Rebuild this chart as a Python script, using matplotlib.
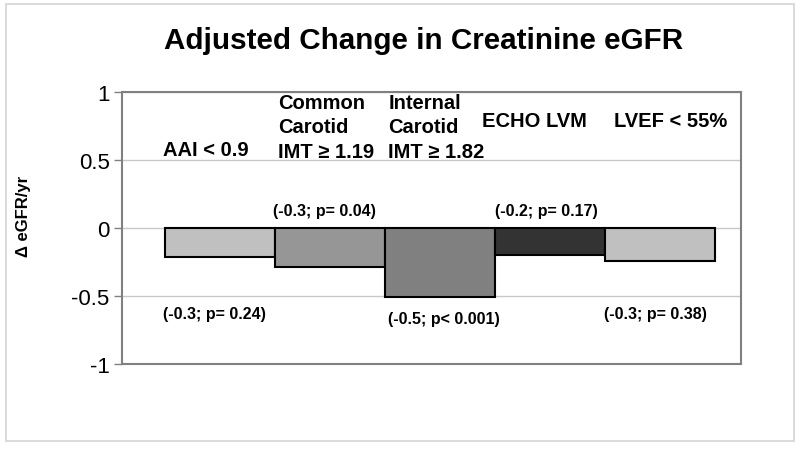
import matplotlib
matplotlib.use("Agg")
import matplotlib.pyplot as plt
from matplotlib.patches import Rectangle

plt.rcParams['font.family'] = ['Liberation Sans', 'DejaVu Sans']

# data
categories = ['AAI < 0.9', 'Common\nCarotid\nIMT \u2265 1.19', 'Internal\nCarotid\nIMT \u2265 1.82',
              'ECHO LVM', 'LVEF < 55%']
values = [-0.21, -0.29, -0.51, -0.20, -0.24]
notes = ['(-0.3; p= 0.24)', '(-0.3; p= 0.04)', '(-0.5; p< 0.001)', '(-0.2; p= 0.17)', '(-0.3; p= 0.38)']
colors = ['#c0c0c0', '#969696', '#808080', '#333333', '#c0c0c0']
yticks = [-1, -0.5, 0, 0.5, 1]

# label placement (data coords, left-aligned)
cat_pos = [(-0.515, 0.58), (0.53, 0.743), (1.53, 0.743), (2.38, 0.789), (3.58, 0.789)]
note_pos = [(-0.515, -0.632), (0.485, 0.127), (1.53, -0.664), (2.5, 0.127), (3.49, -0.632)]

fig = plt.figure(figsize=(8, 4.52), dpi=100)
fig.patches.append(Rectangle((0.008, 0.022), 0.985, 0.967, transform=fig.transFigure,
                             fill=False, edgecolor='#d4d4d4', lw=1.2))

ax = fig.add_axes([122 / 800, 1 - 365 / 452, (741 - 122) / 800, (365 - 93) / 452])
x = range(len(values))
ax.bar(x, values, width=1.0, color=colors, edgecolor='black', linewidth=1.5, zorder=3)

ax.set_xlim(-0.891, 4.736)
ax.set_ylim(-1, 1)
ax.set_yticks(yticks)
ax.set_yticklabels(['-1', '-0.5', '0', '0.5', '1'], fontsize=16)
ax.set_xticks([])
ax.tick_params(axis='y', length=6, width=1, color='#808080', pad=3)
ax.grid(axis='y', color='#c8c8c8', lw=1, zorder=0)
for s in ax.spines.values():
    s.set_color('#808080')
    s.set_linewidth(1.5)

for (px, py), t in zip(cat_pos, categories):
    ax.text(px, py, t, ha='left', va='center', fontsize=14.5, fontweight='bold', linespacing=1.35)
for (px, py), t in zip(note_pos, notes):
    ax.text(px, py, t, ha='left', va='center', fontsize=11.5, fontweight='bold')

fig.text(0.529, 1 - 41 / 452, 'Adjusted Change in Creatinine eGFR', ha='center', va='center',
         fontsize=21.3, fontweight='bold')
fig.text(24 / 800, 1 - 216 / 452, '\u0394 eGFR/yr', rotation=90, ha='center', va='center',
         fontsize=12, fontweight='bold')

fig.savefig('out.png', dpi=100)
